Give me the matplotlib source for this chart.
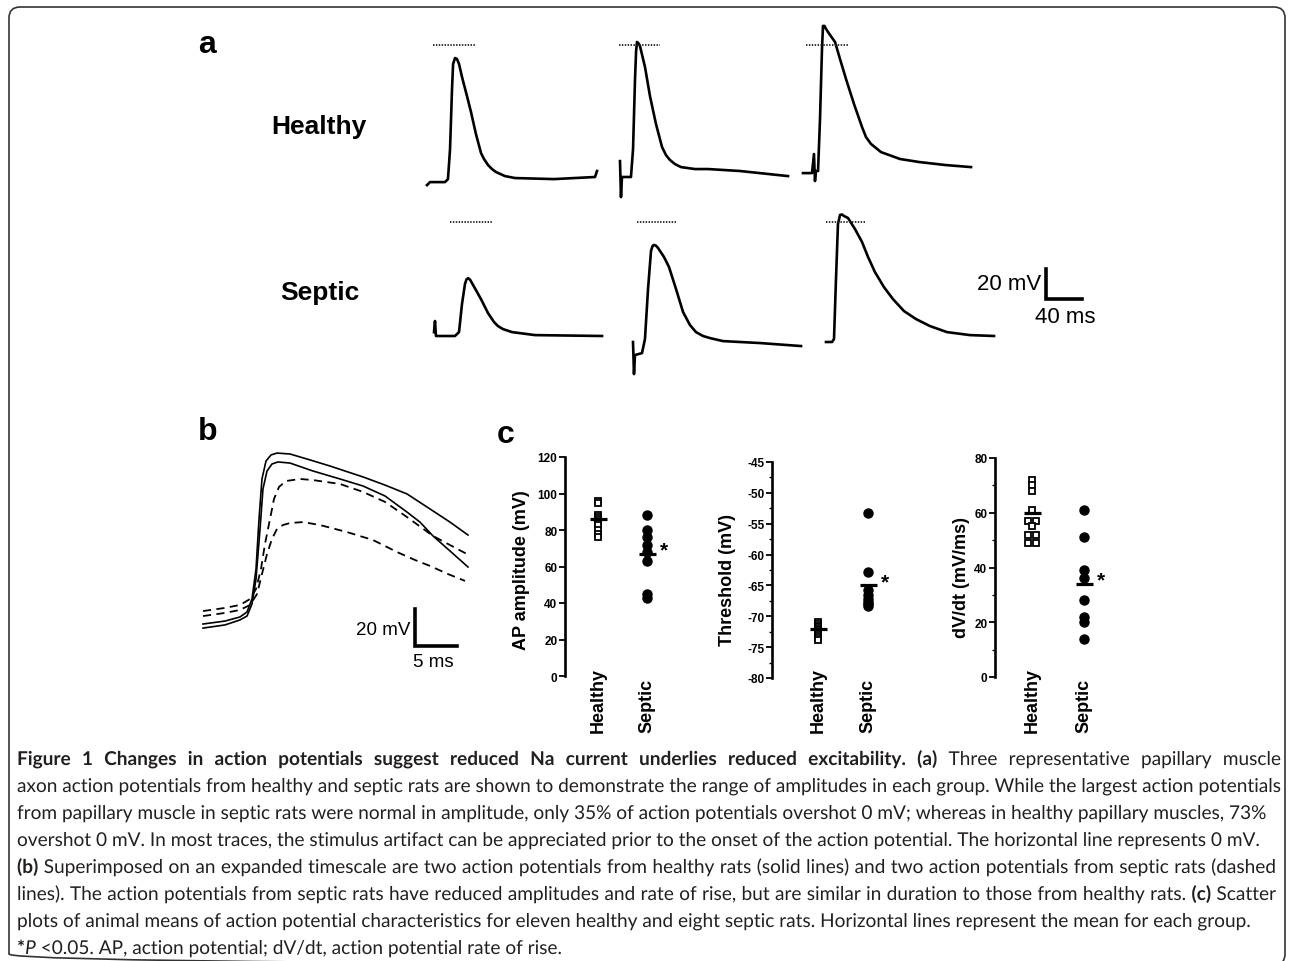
import matplotlib
matplotlib.use('Agg')
import matplotlib.pyplot as plt
from matplotlib.patches import FancyBboxPatch, PathPatch
from matplotlib.transforms import blended_transform_factory, Affine2D
from matplotlib.textpath import TextPath
from matplotlib.font_manager import FontProperties

plt.rcParams['font.family'] = ['Liberation Sans', 'DejaVu Sans']
plt.rcParams['axes.unicode_minus'] = False

W, H = 1290, 962

# ---------------- panel a: sweeps (ms from sweep start, mV) ----------------
h1_t = [0, 3.3, 20, 23.3, 25.6, 27.8, 29.0, 31.1, 33.3, 35.6, 38.9, 44.4, 48.9, 54.4, 60, 63.3, 67.8, 72.2, 76.7, 86.7, 97.8, 141, 186.7, 188.9]
h1_v = [-93.4, -91.4, -91.4, -89.4, -69.4, -29.3, -12.7, -8.7, -9.3, -12.7, -21.3, -34, -44.7, -59.4, -72, -76.0, -80, -82.7, -84.7, -87.4, -88.7, -89.4, -88, -84]
h2_t = [1.1, 2.2, 3.3, 13.3, 15.6, 17.8, 19.0, 20, 21.5, 23.3, 28.9, 34.4, 41.1, 47.8, 52.2, 56.7, 62.2, 68.9, 84.4, 98.9, 134.4, 187.8]
h2_v = [-77.4, -101.4, -88, -88, -69.4, -22.7, -4.0, 2, 1.2, -0.7, -14.7, -34, -52.7, -68, -73.4, -76.7, -79.4, -81.4, -82.7, -82.7, -84, -87.4]
h3_t = [0, 10, 12.2, 13.3, 14.4, 16.7, 18.9, 21.1, 22.2, 23.8, 25.6, 30, 35.6, 41.1, 47.8, 56.7, 65.6, 70.0, 75.6, 86.7, 107.8, 128.9, 157.8, 186.7]
h3_v = [-85.4, -85.4, -72.7, -90.7, -84, -84, -49.4, -2.7, 12.7, 12.7, 10.7, 6.7, 2, -9.3, -22.7, -39.4, -54.7, -61.4, -66, -71.4, -76, -78, -80, -81.4]

s1_t = [0, 1.1, 2.2, 23.3, 27.8, 31.1, 34.4, 36.0, 37.8, 40.0, 42.2, 47.8, 52.2, 60, 66.7, 71.1, 76.7, 86.7, 112.2, 186.7]
s1_v = [-73.4, -66, -76, -76, -73.4, -54.7, -41.4, -38.4, -37.4, -38.4, -40.7, -46.7, -51.4, -60.7, -66.7, -69.4, -71.4, -73.4, -75.4, -76]
s2_t = [0, 1.1, 2.2, 10, 13.3, 16.7, 20, 21.7, 23.3, 25.5, 27.8, 34.4, 40, 47.8, 55.6, 63.3, 70, 77.8, 85.6, 100, 141.1, 186.7]
s2_v = [-80, -101.4, -88.7, -87.4, -78, -44.7, -19.3, -16.0, -15.3, -15.8, -17.3, -23.3, -30, -44.7, -60, -68.7, -73.4, -76.0, -77.4, -79.4, -80.7, -82.7]
s3_t = [0, 6.7, 8.9, 11.1, 13.3, 15.6, 17.8, 20, 24.4, 32.2, 40, 46.7, 54.4, 64.4, 74.4, 86.7, 100, 115.6, 134.4, 160, 186.7]
s3_v = [-80, -80, -78, -38, -1.3, 4.7, 5.0, 4, 2.7, -4.7, -13.3, -23.3, -33.4, -43.4, -51.4, -59.4, -64.7, -69.4, -73.4, -75.4, -76]

# 0 mV marker segments (ms)
healthy_zero = [(6.7, 54.4), (0, 45.6), (3.3, 50)]
septic_zero = [(17.8, 64.4), (4.4, 48.9), (0, 44.4)]

# ---------------- panel b: superimposed APs (ms, mV) ----------------
hb1_t = [0, 2.62, 4.40, 5.24, 5.83, 6.31, 6.67, 7.02, 7.50, 8.10, 8.81, 10.36, 12.74, 15.12, 19.05, 21.67, 24.29, 27.02, 29.40, 31.55]
hb1_v = [-91.9, -90.3, -88.1, -85.4, -78.4, -62.2, -35.1, -13.5, -3.8, -0.5, 0.5, 0, -3.2, -6.5, -12.4, -16.8, -21.6, -29.7, -36.8, -43.8]
hb2_t = [0, 2.62, 4.40, 5.24, 5.83, 6.31, 6.79, 7.14, 7.62, 8.21, 8.93, 10.36, 13.10, 16.31, 19.05, 21.67, 24.29, 25.83, 27.38, 29.40, 31.55]
hb2_v = [-94.1, -92.4, -89.7, -87.6, -81.1, -67.6, -40.5, -18.9, -9.2, -5.4, -4.3, -4.9, -9.2, -13.5, -17.3, -22.7, -31.4, -36.8, -44.3, -52.4, -61.1]
sb1_t = [0, 2.62, 4.40, 5.60, 6.31, 6.90, 7.38, 7.98, 8.45, 9.05, 9.88, 11.55, 13.10, 16.31, 19.05, 21.67, 24.29, 27.38, 29.40, 31.43]
sb1_v = [-84.9, -83.2, -81.6, -78.4, -73.0, -62.2, -48.6, -35.1, -24.3, -17.8, -14.6, -13.5, -14.1, -16.2, -20.5, -25.9, -34.1, -44.3, -49.2, -54.1]
sb2_t = [0, 2.62, 4.40, 5.60, 6.43, 7.02, 7.62, 8.21, 8.81, 9.52, 10.36, 11.90, 13.93, 17.14, 20.24, 23.10, 25.24, 27.02, 29.17, 31.19]
sb2_v = [-87.6, -85.9, -84.3, -81.6, -75.7, -64.9, -54.1, -45.9, -40.5, -38.4, -37.3, -36.8, -38.4, -42.2, -46.5, -53.0, -57.3, -60.5, -64.9, -68.6]

# ---------------- panel c: animal means ----------------
groups = ['Healthy', 'Septic']
amp_healthy = [96, 95, 88, 87, 86, 85, 84, 83, 80, 78, 76]
amp_septic = [88, 80, 76, 72, 68, 63, 45, 43]
amp_means = [86, 67]
thr_healthy = [-71.0, -71.2, -71.5, -71.8, -72.0, -72.2, -72.5, -72.8, -73.2, -73.5, -73.8]
thr_septic = [-53.2, -62.8, -65.8, -66.5, -67.2, -67.7, -68.0, -68.3]
thr_means = [-72, -65]
dvdt_healthy = [72, 70, 68, 61, 57, 57, 55, 52, 52, 49, 49]
dvdt_septic = [61, 51, 39, 36, 28, 22, 20, 14]
dvdt_means = [60, 34]

fig = plt.figure(figsize=(W / 100, H / 100), dpi=100)
bg = fig.add_axes([0, 0, 1, 1])
bg.set_xlim(0, W)
bg.set_ylim(H, 0)
bg.axis('off')


def px_axes(left, top, width, height):
    ax = fig.add_axes([left / W, 1 - (top + height) / H, width / W, height / H])
    ax.patch.set_alpha(0)
    return ax


# frame
bg.add_patch(FancyBboxPatch((9, 8), 1276, 958, boxstyle='round,pad=0,rounding_size=11',
                            fill=False, ec='#333333', lw=1.2))

# panel letters and row labels
for s, x, y in [('a', 207, 45), ('b', 208, 432), ('c', 506, 435)]:
    bg.text(x, y, s, fontsize=23, fontweight='bold', ha='center', va='center')
bg.text(319, 127, 'Healthy', fontsize=19, fontweight='bold', ha='center', va='center')
bg.text(320, 293, 'Septic', fontsize=19, fontweight='bold', ha='center', va='center')

# ---- panel a ----
PX_MS_A, PX_MV_A = 0.9, 1.5
T_MAX, V_MIN, V_MAX = 200, -110, 20
rows = [
    ([(h1_t, h1_v), (h2_t, h2_v), (h3_t, h3_v)], [427, 619, 803], healthy_zero, 46),
    ([(s1_t, s1_v), (s2_t, s2_v), (s3_t, s3_v)], [434, 633, 826], septic_zero, 223),
]
for traces, x0s, zeros, zero_px in rows:
    for (t, v), x0, (z0, z1) in zip(traces, x0s, zeros):
        ax = px_axes(x0, zero_px - V_MAX * PX_MV_A, T_MAX * PX_MS_A, (V_MAX - V_MIN) * PX_MV_A)
        ax.set_xlim(0, T_MAX)
        ax.set_ylim(V_MIN, V_MAX)
        ax.axis('off')
        ax.plot(t, v, color='black', lw=1.9, solid_joinstyle='round', clip_on=False)
        ax.plot([z0, z1], [0, 0], color='#222222', lw=1.3, ls=(0, (0.8, 0.8)), clip_on=False)

sba = px_axes(1046, 270, 40 * PX_MS_A, 20 * PX_MV_A)
sba.set_xlim(0, 40)
sba.set_ylim(0, 20)
sba.axis('off')
sba.plot([0, 0, 40], [20, 0, 0], color='black', lw=2.6, solid_joinstyle='miter', clip_on=False)
bg.text(1041, 285, '20 mV', ha='right', va='center', fontsize=16)
bg.text(1065, 318, '40 ms', ha='center', va='center', fontsize=16)

# ---- panel b ----
PX_MS_B, PX_MV_B = 8.4, 1.85
axb = px_axes(203, 455 - 5 * PX_MV_B, 32 * PX_MS_B, 105 * PX_MV_B)
axb.set_xlim(0, 32)
axb.set_ylim(-100, 5)
axb.axis('off')
for t, v in [(hb1_t, hb1_v), (hb2_t, hb2_v)]:
    axb.plot(t, v, color='black', lw=1.2, clip_on=False)
for t, v in [(sb1_t, sb1_v), (sb2_t, sb2_v)]:
    axb.plot(t, v, color='black', lw=1.3, ls=(0, (4.5, 3)), clip_on=False)

sbb = px_axes(415, 610, 5 * PX_MS_B, 20 * PX_MV_B)
sbb.set_xlim(0, 5)
sbb.set_ylim(0, 20)
sbb.axis('off')
sbb.plot([0, 0, 5], [20, 0, 0], color='black', lw=2.6, solid_joinstyle='miter', clip_on=False)
bg.text(410, 631, '20 mV', ha='right', va='center', fontsize=13.5)
bg.text(433, 663, '5 ms', ha='center', va='center', fontsize=13.5)

# ---- panel c ----


def swarm(values, tol, step):
    # near-identical values are laid side by side, centred on the column
    order = sorted(range(len(values)), key=lambda i: values[i])
    offs = [0.0] * len(values)
    cluster = []
    for i in order + [None]:
        if i is not None and cluster and abs(values[i] - values[cluster[-1]]) < tol:
            cluster.append(i)
            continue
        n = len(cluster)
        for j, k in enumerate(cluster):
            offs[k] = (j - (n - 1) / 2) * step
        cluster = [i] if i is not None else []
    return offs


panels = [
    dict(layout=(565, 598, 647, 458, 677), data=(amp_healthy, amp_septic), means=amp_means,
         ylim=(0, 120), ticks=range(0, 121, 20), minor=None, label='AP amplitude (mV)',
         label_xy=(522, 570), tol=0),
    dict(layout=(772, 818, 868, 463, 679), data=(thr_healthy, thr_septic), means=thr_means,
         ylim=(-80, -45), ticks=range(-80, -44, 5), minor=2.5, label='Threshold (mV)',
         label_xy=(727, 580), tol=0),
    dict(layout=(995, 1032, 1084, 459, 678), data=(dvdt_healthy, dvdt_septic), means=dvdt_means,
         ylim=(0, 80), ticks=range(0, 81, 20), minor=10, label='dV/dt (mV/ms)',
         label_xy=(962, 578), tol=1),
]

for p in panels:
    axis_px, hx, sx, top, bottom = p['layout']
    d = sx - hx
    width_px = 130
    ax = px_axes(axis_px, top, width_px, bottom - top)
    left = (axis_px - hx) / d
    ax.set_xlim(left, left + width_px / d)
    ax.set_ylim(*p['ylim'])
    for side in ['top', 'right', 'bottom']:
        ax.spines[side].set_visible(False)
    ax.spines['left'].set_linewidth(1.9)
    ax.set_xticks([])
    ax.set_yticks(list(p['ticks']))
    if p['minor']:
        ax.set_yticks([p['ylim'][0] + i * p['minor'] for i in
                       range(int((p['ylim'][1] - p['ylim'][0]) / p['minor']) + 1)], minor=True)
        ax.tick_params(axis='y', which='minor', length=2, width=1)
    ax.tick_params(axis='y', which='major', direction='out', length=4, width=1.3, pad=1.5, labelsize=8.5)
    for lab in ax.get_yticklabels():
        lab.set_fontweight('bold')

    hv, sv = p['data']
    hoff = swarm(hv, p['tol'], 7.5 / d)
    ax.plot([0 + o for o in hoff], hv, ls='none', marker='s', ms=5, mfc='white', mec='black',
            mew=1.3, clip_on=False, zorder=3)
    ax.plot([1] * len(sv), sv, ls='none', marker='o', ms=6.5, mfc='black', mec='black',
            clip_on=False, zorder=3)
    half = 8.5 / d
    for i, m in enumerate(p['means']):
        ax.plot([i - half, i + half], [m, m], color='black', lw=2.3, solid_capstyle='butt',
                zorder=4, clip_on=False)
    ax.annotate('*', xy=(1, p['means'][1]), xytext=(17, 4), textcoords='offset pixels',
                ha='center', va='center', fontsize=15, fontweight='bold')

    tr = blended_transform_factory(ax.transData, bg.transData)
    for i, g in enumerate(groups):
        ax.text(i, 733, g, transform=tr, rotation=90, ha='center', va='bottom',
                fontsize=13, fontweight='bold')
    bg.text(p['label_xy'][0], p['label_xy'][1], p['label'], rotation=90, ha='center', va='center',
            fontsize=13, fontweight='bold')

# ---- caption ----
cap_color = '#231f20'
cap_lines = [
    [('b', 'Figure 1 Changes in action potentials suggest reduced Na current underlies reduced excitability. (a)'),
     ('r', 'Three representative papillary muscle')],
    [('r', 'axon action potentials from healthy and septic rats are shown to demonstrate the range of amplitudes in each group. While the largest action potentials')],
    [('r', 'from papillary muscle in septic rats were normal in amplitude, only 35% of action potentials overshot 0 mV; whereas in healthy papillary muscles, 73%')],
    [('r', 'overshot 0 mV. In most traces, the stimulus artifact can be appreciated prior to the onset of the action potential. The horizontal line represents 0 mV.')],
    [('b', '(b)'), ('r', 'Superimposed on an expanded timescale are two action potentials from healthy rats (solid lines) and two action potentials from septic rats (dashed')],
    [('r', 'lines). The action potentials from septic rats have reduced amplitudes and rate of rise, but are similar in duration to those from healthy rats.'),
     ('b', '(c)'), ('r', 'Scatter')],
    [('r', 'plots of animal means of action potential characteristics for eleven healthy and eight septic rats. Horizontal lines represent the mean for each group.')],
    [('b', '*'), ('i', 'P'), ('r', '<0.05. AP, action potential; dV/dt, action potential rate of rise.')],
]
# right edge each line is justified to (None = ragged)
cap_right = [1281, 1281, None, None, 1276, 1276, None, None]
cap_props = {
    'b': FontProperties(family='Lato', weight='bold'),
    'r': FontProperties(family='Lato'),
    'i': FontProperties(family='Lato', style='italic'),
}


def path_width(s, size_px, key):
    # advance width of s, measured between two bars so edge bearings count
    a = TextPath((0, 0), '|' + s + '|', size=size_px, prop=cap_props[key]).get_extents().width
    b = TextPath((0, 0), '||', size=size_px, prop=cap_props[key]).get_extents().width
    return a - b


cap_px = 10 * 1264 / path_width(cap_lines[1][0][1], 10, 'r')
space_w = path_width(' ', cap_px, 'r')
for i, (line, right) in enumerate(zip(cap_lines, cap_right)):
    y = 766 + 27 * i  # baseline
    words = []
    for j, (key, s) in enumerate(line):
        for k, wd in enumerate(s.split(' ')):
            glue = (k == 0 and j > 0 and line[j - 1][1] == '*')
            words.append((key, wd, glue))
    widths = [path_width(wd, cap_px, key) for key, wd, _ in words]
    n_gaps = sum(1 for _, _, g in words[1:] if not g)
    gap = space_w
    if right is not None and n_gaps:
        gap = (right - 17 - sum(widths)) / n_gaps
    x = 17
    for idx, ((key, wd, glue), w) in enumerate(zip(words, widths)):
        if idx > 0 and not glue:
            x += gap
        tp = TextPath((0, 0), wd, size=cap_px, prop=cap_props[key])
        tr = Affine2D().scale(1, -1).translate(x, y) + bg.transData
        bg.add_patch(PathPatch(tp, transform=tr, fc=cap_color, ec='none', lw=0))
        x += w

fig.savefig('out.png', dpi=100)
